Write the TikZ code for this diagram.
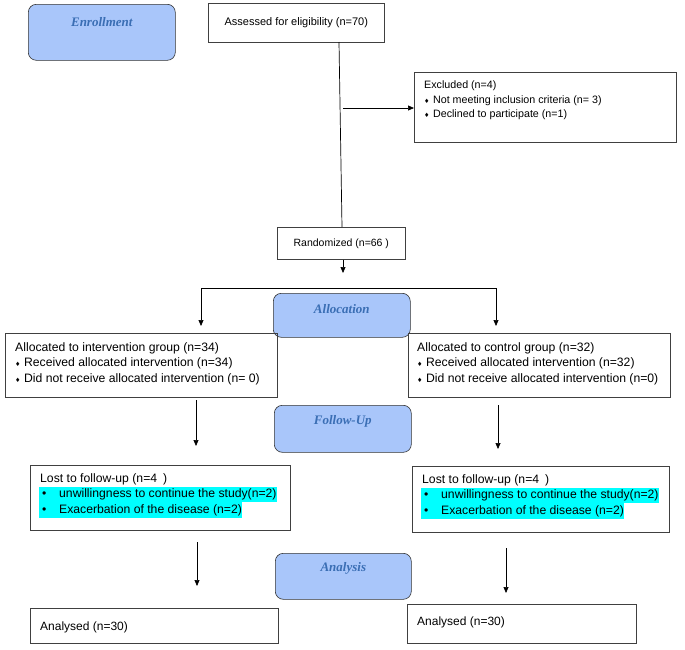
\documentclass[tikz,border=0pt]{standalone}
\usepackage{fontspec}
\setmainfont{Liberation Sans}
\newfontfamily\labfont{Liberation Serif}
\newfontfamily\symfont{DejaVu Sans}
\usetikzlibrary{arrows.meta,calc}
\newcommand{\dia}{{\symfont\fontsize{6}{6}\selectfont ♦}\hspace{3.5pt}}
\newcommand{\hlline}[1]{{\setlength{\fboxsep}{0pt}\colorbox{hl}{\strut\makebox[20pt][l]{\hspace{3pt}•}#1}}}
\definecolor{labfill}{RGB}{169,198,250}
\definecolor{labtext}{RGB}{58,110,180}
\definecolor{hl}{RGB}{0,255,255}
\begin{document}
\begin{tikzpicture}[x=1pt,y=-1pt,
  box/.style={draw=black!75, line width=0.6pt, anchor=north west, inner sep=0pt, font=\fontsize{12}{15}\selectfont},
  phase/.style={draw=black!80, line width=0.6pt, fill=labfill, rounded corners=8pt, anchor=north west, inner sep=0pt},
  txt/.style={anchor=north west, align=left, inner sep=0pt},
  lab/.style={font=\labfont\bfseries\itshape\fontsize{13}{15}\selectfont, text=labtext, inner sep=0pt},
  arr/.style={-{Triangle[length=6pt,width=5pt]}, line width=0.7pt},
  ln/.style={line width=0.7pt}]
\useasboundingbox (0,0) rectangle (685,649);

% phase labels
\node[phase, minimum width=147pt, minimum height=56pt] (enr) at (28,4) {};
\node[lab] (enrl) at ($(enr.north)+(0,18)$) {Enrollment};
\node[phase, minimum width=137pt, minimum height=44pt] (alloc) at (273,293) {};
\node[lab] (allocl) at ($(alloc.north)+(0,16)$) {Allocation};
\node[phase, minimum width=137pt, minimum height=47pt] (fup) at (274,405) {};
\node[lab] (fupl) at ($(fup.north)+(0,16)$) {Follow-Up};
\node[phase, minimum width=136pt, minimum height=46pt] (ana) at (275,553) {};
\node[lab] (anal) at ($(ana.north)+(0,15)$) {Analysis};

% boxes
\node[box, minimum width=176pt, minimum height=39pt, font=\fontsize{11}{14}\selectfont] (assess) at (208,3) {Assessed for eligibility (n=70)};
\node[box, minimum width=262pt, minimum height=70pt] (excl) at (414,72) {};
\node[txt, font=\fontsize{10.7}{14.5}\selectfont] (exclt) at (424,81) {Excluded (n=4)\\\dia Not meeting inclusion criteria (n= 3)\\\dia Declined to participate (n=1)};
\node[box, minimum width=128pt, minimum height=32pt, font=\fontsize{10.5}{14}\selectfont] (rand) at (277,227) {Randomized (n=66 )};

\node[box, minimum width=272pt, minimum height=64pt] (al) at (5,333) {};
\node[txt, font=\fontsize{12.2}{15.5}\selectfont] (alt) at (15,342) {Allocated to intervention group (n=34)\\\dia Received allocated intervention (n=34)\\\dia Did not receive allocated intervention (n= 0)};
\node[box, minimum width=262pt, minimum height=64pt] (ar) at (408,333) {};
\node[txt, font=\fontsize{12.2}{15.5}\selectfont] (art) at (417,342) {Allocated to control group (n=32)\\\dia Received allocated intervention (n=32)\\\dia Did not receive allocated intervention (n=0)};

\node[box, minimum width=260pt, minimum height=65pt] (ll) at (30,465) {};
\node[txt, font=\fontsize{12.2}{15.5}\selectfont] (llt) at (39,473) {\hspace{1pt}Lost to follow-up (n=4\hspace{6pt})\\\hlline{unwillingness to continue the study(n=2)}\\\hlline{Exacerbation of the disease (n=2)}};
\node[box, minimum width=257pt, minimum height=66pt] (lr) at (412,466) {};
\node[txt, font=\fontsize{12.2}{15.5}\selectfont] (lrt) at (421,474) {\hspace{1pt}Lost to follow-up (n=4\hspace{6pt})\\\hlline{unwillingness to continue the study(n=2)}\\\hlline{Exacerbation of the disease (n=2)}};

\node[box, minimum width=248pt, minimum height=35pt] (nl) at (30,608) {};
\node[txt, anchor=west, font=\fontsize{12}{15}\selectfont] (nlt) at (40,627) {Analysed (n=30)};
\node[box, minimum width=229pt, minimum height=39pt] (nr) at (407,604) {};
\node[txt, anchor=west, font=\fontsize{12}{15}\selectfont] (nrt) at (417,622) {Analysed (n=30)};

% connectors
\coordinate (top) at (339,42);
\coordinate (bot) at (342,227);
\draw[ln] (top) -- (bot);
\coordinate (exs) at (343,108);
\draw[arr] (exs) -- (excl.west |- exs);
\coordinate (rend) at (343,273);
\draw[arr] (rand.south -| rend) -- (rend);
\coordinate (hl) at (201,288);
\coordinate (hr) at (496,288);
\coordinate (hld) at (201,326);
\coordinate (hrd) at (496,326);
\draw[ln] (hl) -- (hr);
\draw[arr] (hl) -- (hld);
\draw[arr] (hr) -- (hrd);
\coordinate (a1s) at (196,400);
\coordinate (a1e) at (196,446);
\draw[arr] (a1s) -- (a1e);
\coordinate (a2s) at (498,405);
\coordinate (a2e) at (498,449);
\draw[arr] (a2s) -- (a2e);
\coordinate (b1s) at (197,542);
\coordinate (b1e) at (197,586);
\draw[arr] (b1s) -- (b1e);
\coordinate (b2s) at (506,548);
\coordinate (b2e) at (506,593);
\draw[arr] (b2s) -- (b2e);
\end{tikzpicture}
\end{document}
